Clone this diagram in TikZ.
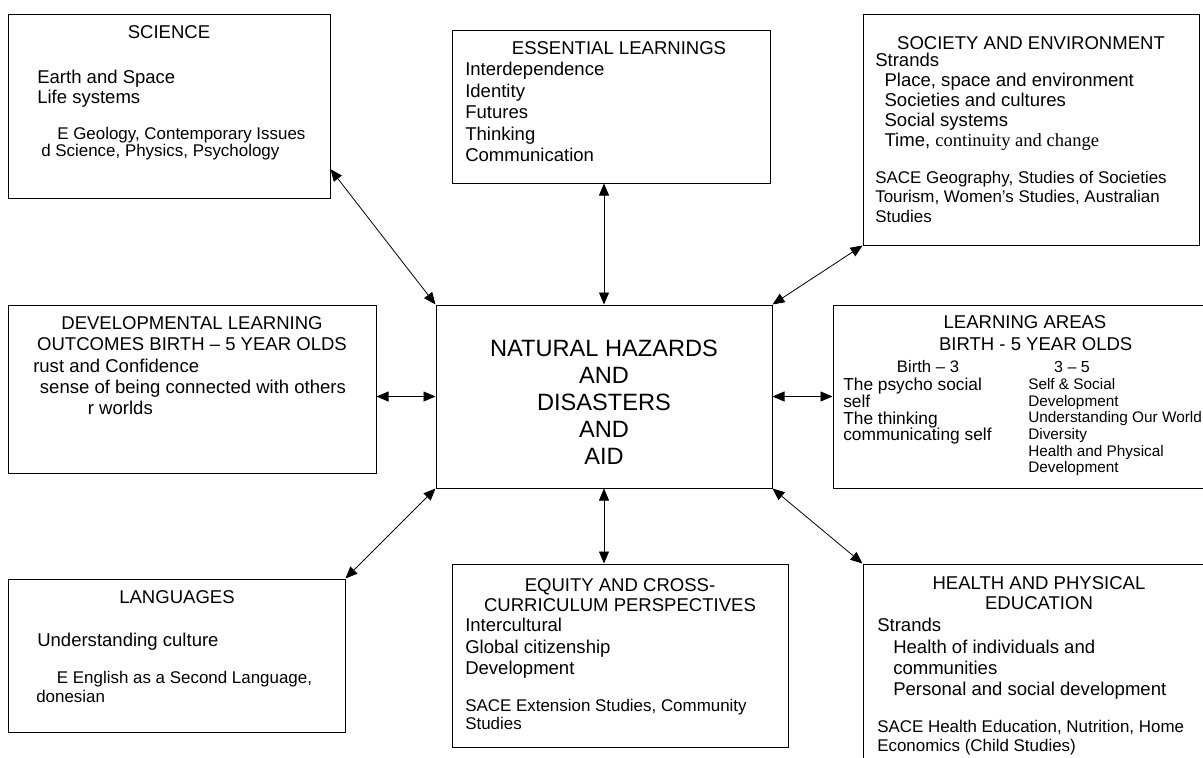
\documentclass[tikz,border=0pt]{standalone}
\usepackage{fontspec}
\setmainfont{Liberation Sans}
\newfontfamily\serifpart{Liberation Serif}
\usetikzlibrary{arrows.meta,fit}

\tikzset{
    box/.style = {draw, line width=0.75pt, inner sep=0pt},
    link/.style = {{Triangle[length=9pt,width=7.5pt]}-{Triangle[length=9pt,width=7.5pt]}, line width=0.6pt},
    head/.style = {inner sep=0pt, anchor=north, align=center, font=\fontsize{13.9}{#1}\selectfont},
    head/.default = 15.5,
    body/.style = {inner sep=0pt, anchor=north west, align=left, font=\fontsize{13.9}{#1}\selectfont},
    body/.default = 16,
    sub/.style = {inner sep=0pt, anchor=north west, align=left, font=\fontsize{12.7}{#1}\selectfont},
    sub/.default = 13.5
}

\begin{document}
\begin{tikzpicture}[x=0.75pt, y=-0.75pt]
    \useasboundingbox (0,0) rectangle (1203,757);
    \clip (0,0) rectangle (1203,757);

    % the boxes
    \node[box, fit={(436,305) (772,488)}] (hub) {};
    \node[box, fit={(8,14) (330,198)}] (sci) {};
    \node[box, fit={(452,30) (770,183)}] (ess) {};
    \node[box, fit={(863,14) (1199,245)}] (soc) {};
    \node[box, fit={(8,305) (376,473)}] (dev) {};
    \node[box, fit={(833,305) (1218,488)}] (learn) {};
    \node[box, fit={(8,579) (345,732)}] (lang) {};
    \node[box, fit={(452,564) (788,747)}] (equ) {};
    \node[box, fit={(863,564) (1216,780)}] (hea) {};

    % centre
    \node[inner sep=0pt, anchor=north, align=center, font=\fontsize{17.7}{20.25}\selectfont] (hub-txt) at (604,340)
        {NATURAL HAZARDS\\AND\\DISASTERS\\AND\\AID};

    % science
    \node[head] (sci-head) at (169,25) {SCIENCE};
    \node[body=14.5] (sci-txt) at (37,70) {Earth and Space\\Life systems};
    \node[sub=12.4] (sci-sace) at (41,127)
        {\hspace*{12pt}E Geology, Contemporary Issues\\d Science, Physics, Psychology};

    % essential learnings
    \node[head] (ess-head) at (619,41) {ESSENTIAL LEARNINGS};
    \node[body=16.1] (ess-txt) at (465,62)
        {Interdependence\\Identity\\Futures\\Thinking\\Communication};

    % society and environment
    \node[head] (soc-head) at (1031,36) {SOCIETY AND ENVIRONMENT};
    \node[body=15] (soc-txt) at (875,53)
        {Strands\\
         \hspace*{7pt}Place, space and environment\\
         \hspace*{7pt}Societies and cultures\\
         \hspace*{7pt}Social systems\\
         \hspace*{7pt}Time, {\serifpart continuity and change}};
    \node[sub=14.5] (soc-sace) at (875,171)
        {SACE Geography, Studies of Societies\\Tourism, Women’s Studies, Australian\\Studies};

    % developmental learning outcomes
    \node[head=16] (dev-head) at (192,316)
        {DEVELOPMENTAL LEARNING\\OUTCOMES BIRTH – 5 YEAR OLDS};
    \node[body=15.75] (dev-txt) at (33,359)
        {rust and Confidence\\
         \hspace*{5pt}sense of being connected with others\\
         \hspace*{41pt}r worlds};

    % learning areas
    \node[head=17] (learn-head) at (1025,315)
        {LEARNING AREAS\\\hspace*{16pt}BIRTH - 5 YEAR OLDS};
    \node[inner sep=0pt, font=\fontsize{12.5}{15}\selectfont] (learn-a) at (928,367) {Birth – 3};
    \node[inner sep=0pt, font=\fontsize{12}{15}\selectfont] (learn-b) at (1072,367) {3 – 5};
    \node[sub=12.5, font=\fontsize{13}{12.5}\selectfont] (learn-c1) at (843,378)
        {The psycho social\\self\\The thinking\\communicating self};
    \node[sub=12.5, font=\fontsize{11.5}{12.5}\selectfont] (learn-c2) at (1028,378)
        {Self \& Social\\Development\\Understanding Our World\\Diversity\\Health and Physical\\Development};

    % languages
    \node[head] (lang-head) at (177,590) {LANGUAGES};
    \node[body] (lang-txt) at (37,633) {Understanding culture};
    \node[sub=14.2] (lang-sace) at (36,671)
        {\hspace*{15.5pt}E English as a Second Language,\\donesian};

    % equity
    \node[head] (equ-head) at (620,578)
        {EQUITY AND CROSS-\\CURRICULUM PERSPECTIVES};
    \node[body] (equ-txt) at (465,618)
        {Intercultural\\Global citizenship\\Development};
    \node[sub] (equ-sace) at (465,699)
        {SACE Extension Studies, Community\\Studies};

    % health
    \node[head] (hea-head) at (1039,576)
        {HEALTH AND PHYSICAL\\EDUCATION};
    \node[body] (hea-txt) at (877,618)
        {Strands\\
         \hspace*{12pt}Health of individuals and\\
         \hspace*{12pt}communities\\
         \hspace*{12pt}Personal and social development};
    \node[sub=14.2] (hea-sace) at (877,720)
        {SACE Health Education, Nutrition, Home\\Economics (Child Studies)};

    % connectors
    \draw[link] ([yshift=22pt]sci.south east) -- (hub.north west);
    \draw[link] (hub.north |- ess.south) -- (hub.north);
    \draw[link] (soc.south west) -- (hub.north east);
    \draw[link] (hub.west -| dev.east) -- (hub.west);
    \draw[link] (hub.east) -- (hub.east -| learn.west);
    \draw[link] (lang.north east) -- (hub.south west);
    \draw[link] (hub.south) -- (hub.south |- equ.north);
    \draw[link] (hub.south east) -- (hea.north west);
\end{tikzpicture}
\end{document}
